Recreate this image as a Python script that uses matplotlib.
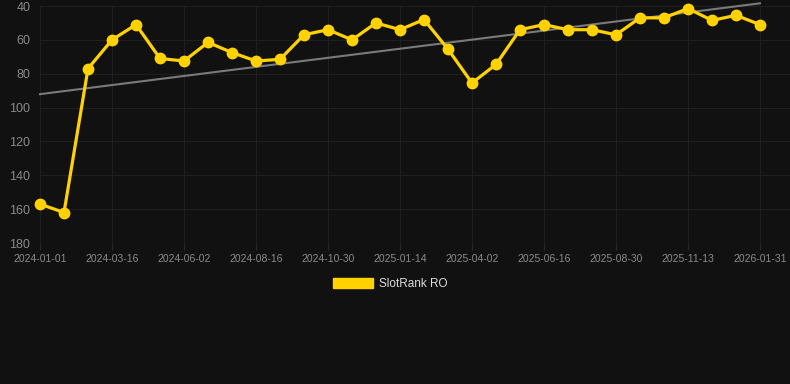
import matplotlib
matplotlib.use("Agg")
import matplotlib.pyplot as plt
import numpy as np
from matplotlib.patches import Patch

plt.rcParams["font.family"] = ["Liberation Sans", "DejaVu Sans"]

ranks = [157, 162, 77, 60, 51, 71, 72.5, 61.5, 67.5, 72.5, 71.5, 57, 54, 60, 50, 54, 48,
         65.5, 85.5, 74.5, 54, 51, 54, 54, 57, 47, 47, 41.5, 48.5, 45.5, 51]
tick_labels = ["2024-01-01", "2024-03-16", "2024-06-02", "2024-08-16", "2024-10-30",
               "2025-01-14", "2025-04-02", "2025-06-16", "2025-08-30", "2025-11-13",
               "2026-01-31"]
y_ticks = [40, 60, 80, 100, 120, 140, 160, 180]
series_name = "SlotRank RO"

bg = "#111111"
gold = "#FFD200"

fig = plt.figure(figsize=(7.9, 3.84), dpi=100, facecolor=bg)
ax = fig.add_axes([40 / 790, 1 - 243 / 384, 750 / 790, 237 / 384], facecolor=bg)

x = np.arange(len(ranks))
coef = np.polyfit(x, ranks, 1)
ax.plot([x[0], x[-1]], np.polyval(coef, [x[0], x[-1]]), color="#7a7a7a", lw=1.5,
        zorder=2, clip_on=False)
ax.plot(x, ranks, color=gold, lw=2.3, marker="o", ms=7.5, zorder=3, clip_on=False)

ax.set_ylim(180, 40)
ax.set_xlim(0, 30 * 750 / 720)
ax.set_yticks(y_ticks)
ax.set_xticks(x[::3])
ax.set_xticklabels(tick_labels)
ax.grid(True, color="#1f1f1f", lw=0.8)
ax.set_axisbelow(True)
for s in ax.spines.values():
    s.set_visible(False)
ax.tick_params(axis="y", length=0, colors="#8a8a8a", labelsize=9, pad=7)
ax.tick_params(axis="x", length=5, color="#2a2a2a", colors="#8a8a8a", labelsize=7.5, pad=3)

leg = fig.legend(handles=[Patch(facecolor=gold, edgecolor=gold, label=series_name)],
                 loc="center", bbox_to_anchor=(390 / 790, 1 - 284 / 384), frameon=False,
                 handlelength=3.4, handleheight=0.85, handletextpad=0.5,
                 fontsize=8.5, labelcolor="#dddddd")

fig.savefig("out.png", dpi=100, facecolor=bg)
